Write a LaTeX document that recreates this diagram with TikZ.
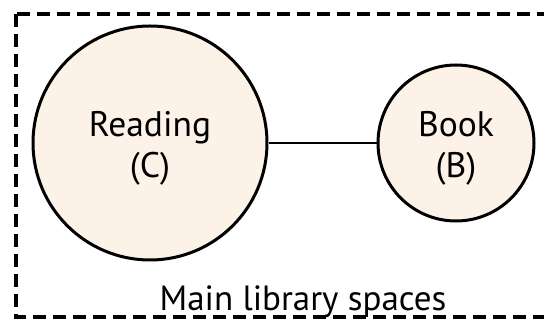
\documentclass[tikz,border=0pt]{standalone}
\usepackage{fontspec}
\setmainfont{PT Sans}
\usetikzlibrary{positioning}

\definecolor{spacefill}{RGB}{253,242,231}

\tikzset{
  space/.style = {circle, draw, line width = 3pt, fill = spacefill,
                  inner sep = 0pt},
  spacename/.style = {align = center, inner sep = 0pt,
                      font = \fontsize{35.5}{41}\selectfont}
}

\begin{document}
\begin{tikzpicture}[x = 1pt, y = -1pt]

  % Fix the size of the picture to the one of the reference

  \useasboundingbox (0, 0) rectangle (544, 320);

  % The dashed frame round the spaces; its right side lies
  %   outside the picture

  \draw[line width = 3.5pt, dash pattern = on 13pt off 7pt]
    (16, 14) rectangle (580, 317);

  % The two spaces, drawn as circles

  \node[space, minimum size = 234pt] (reading) at (150, 143) {};
  \node[space, minimum size = 156pt] (book)    at (456, 143) {};

  % The link between them

  \draw[line width = 2.5pt] (reading) -- (book);

  % Names of the spaces, a little below the centres

  \node[spacename] (readingname) at ([yshift = -5pt] reading.center)
    {Reading\\(C)};
  \node[spacename] (bookname) at ([yshift = -5pt] book.center)
    {Book\\(B)};

  % Name of the whole frame

  \node[spacename, font = \fontsize{35}{41}\selectfont, anchor = base]
    (frame) at (303, 311) {Main library spaces};

\end{tikzpicture}
\end{document}
